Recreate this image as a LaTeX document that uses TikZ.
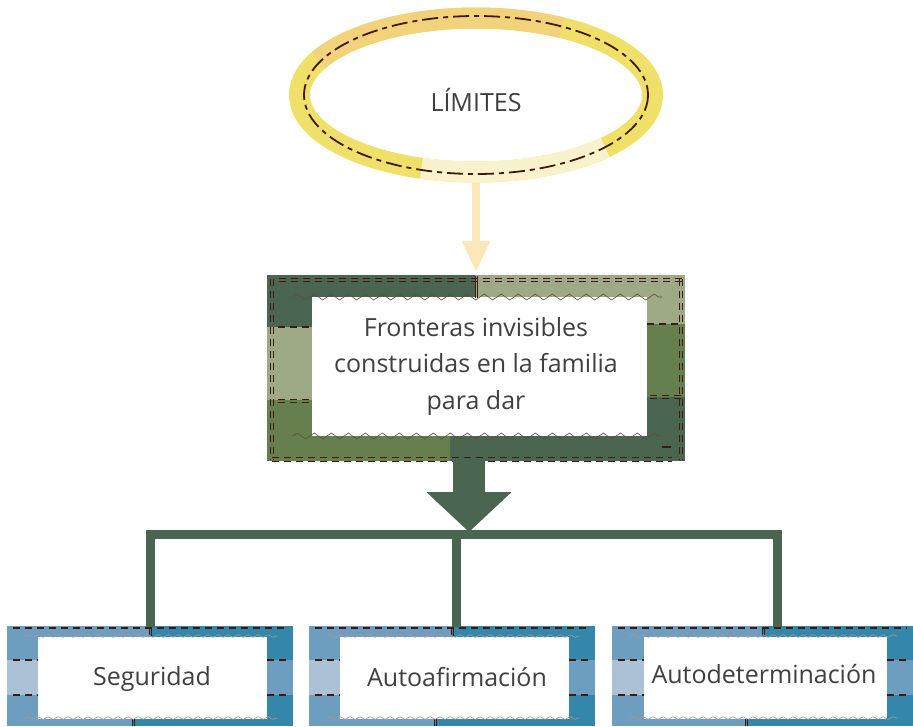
\documentclass[tikz,border=0pt]{standalone}
\usepackage{fontspec}
\setmainfont{Open Sans}
\usetikzlibrary{arrows.meta,shapes.geometric,decorations.pathmorphing}
\definecolor{txt}{HTML}{404040}
\definecolor{brn}{HTML}{3F1A10}
\definecolor{ringY}{HTML}{EFE06A}
\definecolor{ringO}{HTML}{F2D27A}
\definecolor{ringC}{HTML}{F8F3CC}
\definecolor{cream}{HTML}{FBE8B8}
\definecolor{dgreen}{HTML}{4B6650}
\definecolor{sage}{HTML}{9EA986}
\definecolor{mgreen}{HTML}{65804E}
\definecolor{mblue}{HTML}{6E9EBF}
\definecolor{teal}{HTML}{3586AB}
\definecolor{lblue}{HTML}{ABC1D6}
\tikzset{
  lbl/.style={text=txt, font=\fontsize{25}{36.5}\selectfont, align=center, inner sep=0pt},
  ddash/.style={brn, line width=1pt, dash pattern=on 7pt off 5pt},
  sdash/.style={brn, line width=2pt, dash pattern=on 7pt off 5pt},
  zig/.style={draw=brn!80, line width=0.6pt, decorate, decoration={zigzag, segment length=17pt, amplitude=3pt}},
  wav/.style={draw=brn!45, line width=0.6pt, decorate, decoration={snake, segment length=10pt, amplitude=1.3pt}},
}
\newcommand{\bottombox}[6]{%
  % #1 L, #2 R, #3 topsplit, #4 botsplit, #5 wL, #6 wR
  \fill[mblue] (#1,626) rectangle (#2,726);
  \fill[teal] (#6,626) rectangle (#2,726);
  \fill[teal] (#3,626) rectangle (#2,637);
  \fill[teal] (#4,719) rectangle (#2,726);
  \fill[mblue] (#6,660) rectangle (#2,695);
  \fill[lblue] (#1,660) rectangle (#5,695);
  \fill[white] (#5,637) rectangle (#6,719);
  \draw[sdash] (#1+6,628) -- (#2-6,628);
  \draw[sdash] (#1+6,660) -- (#5,660);
  \draw[sdash] (#1+6,695) -- (#5,695);
  \draw[sdash] (#6,660) -- (#2-6,660);
  \draw[sdash] (#6,695) -- (#2-6,695);
  \draw[brn, line width=0.6pt] (#3-1,629) -- (#3-1,636) (#3+1,629) -- (#3+1,636);
  \draw[brn, line width=0.6pt] (#4-1,719) -- (#4-1,726) (#4+1,719) -- (#4+1,726);
  \draw[wav] (#1+18,636) -- (#2-16,636);
  \draw[wav] (#1+18,718) -- (#2-16,718);
}
\begin{document}
\begin{tikzpicture}[x=1pt,y=-1pt]
\useasboundingbox (0,0) rectangle (913,726);
% ---- ellipse ring
\draw[ringY, line width=21pt] (476,95) ellipse [x radius=176.5, y radius=77];
\draw[ringO, line width=21pt] (476,95) ++(-153:176.5 and 77) arc[start angle=-153, end angle=-61, x radius=176.5, y radius=77];
\draw[ringC, line width=21pt] (476,95) ++(43:176.5 and 77) arc[start angle=43, end angle=108, x radius=176.5, y radius=77];
\draw[brn, line width=1.8pt, dash pattern=on 16pt off 5pt on 5pt off 5pt] (476,95) ellipse [x radius=172, y radius=79];
\node[ellipse, minimum width=373pt, minimum height=174pt, lbl] (lim) at (476,100) {LÍMITES};
% ---- middle box
\fill[dgreen] (267,275) rectangle (475,327);
\fill[sage] (475,275) rectangle (685,324);
\fill[sage] (267,327) rectangle (312,400);
\fill[dgreen] (312,324) rectangle (685,397);
\fill[mgreen] (647,324) rectangle (685,397);
\fill[mgreen] (267,400) rectangle (450,461);
\fill[dgreen] (450,397) rectangle (685,461);
\fill[white] (312,297) rectangle (647,436);
\draw[ddash] (279,278) -- (682,278) (279,281.5) -- (682,281.5);
\draw[ddash] (272,457.5) -- (672,457.5) (272,461) -- (672,461);
\draw[ddash] (270,279) -- (270,460) (273,279) -- (273,460);
\draw[ddash] (679,279) -- (679,460) (682,279) -- (682,460);
\draw[ddash] (278,399) -- (312,399) (278,402) -- (312,402);
\draw[ddash] (650,395.5) -- (682,395.5) (650,398.5) -- (682,398.5);
\draw[sdash] (278,327) -- (312,327);
\draw[sdash] (647,324) -- (682,324);
\draw[brn, line width=2pt] (662,447) -- (671,447);
\draw[brn, line width=0.6pt] (475,276) -- (475,298) (477,276) -- (477,298);
\draw[zig] (293,297) -- (662,297);
\draw[zig] (293,436) -- (662,436);
\node[lbl, minimum width=418pt, minimum height=186pt] (mid) at (476,366) {Fronteras invisibles\\construidas en la familia\\para dar};
% ---- connector LIMITES -> box
\draw[cream, line width=8pt, -{Triangle[width=26pt, length=32pt]}] (lim.south |- 0,183) -- (mid.north);
% ---- down arrow
\coordinate (tip) at (469,532);
\draw[dgreen, line width=32pt, -{Triangle[width=83pt, length=40pt]}] (mid.south -| tip) -- (tip);
% ---- bottom boxes
\bottombox{7}{293}{150}{133}{38}{267}
\bottombox{309}{595}{452}{435}{340}{569}
\bottombox{612}{913}{763}{746}{644}{887}
\node[lbl] (b1) at (152,679) {Seguridad};
\node[lbl] (b2) at (457,677) {Autoafirmación};
\node[lbl] (b3) at (764,674) {Autodeterminación};
% ---- tree
\coordinate (bar) at (456,534.5);
\draw[dgreen, line width=9pt, line join=miter] (150,627) |- (bar) -| (777,627);
\draw[dgreen, line width=9pt] (bar) -- (456,627);
\end{tikzpicture}
\end{document}
